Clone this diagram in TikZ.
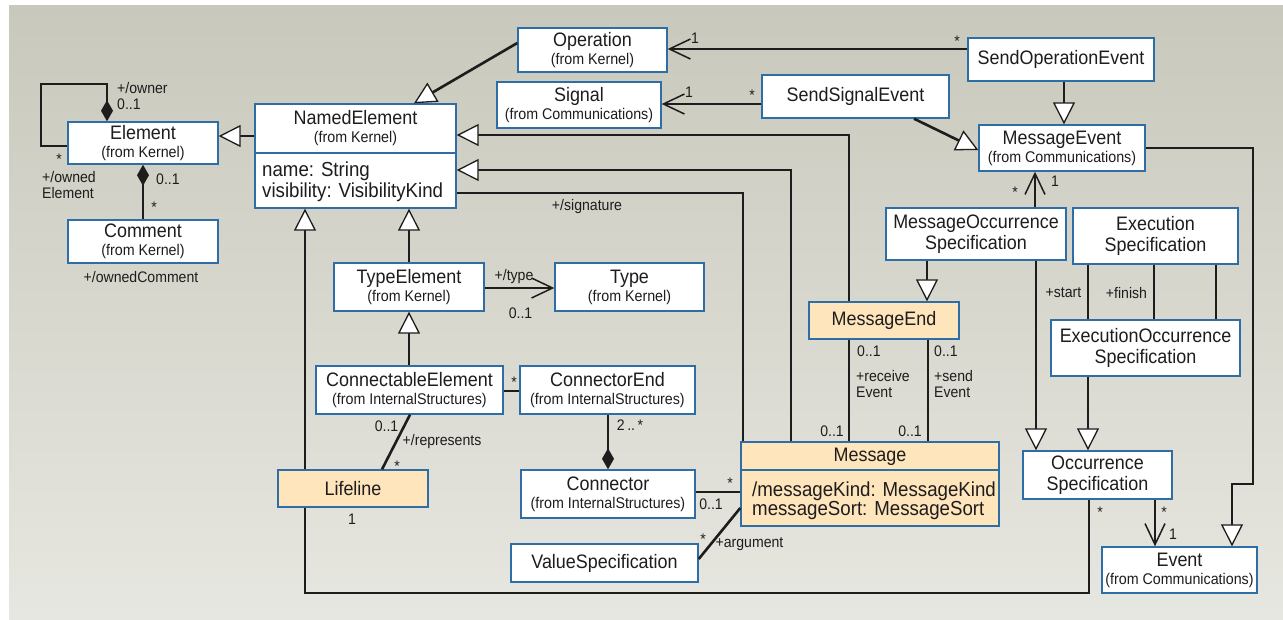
\documentclass[tikz,border=0pt]{standalone}
\usepackage{fontspec}
\setmainfont{Liberation Sans}[FakeStretch=0.92]
\usetikzlibrary{arrows.meta}
\definecolor{bgtop}{RGB}{200,200,188}
\definecolor{bgbot}{RGB}{231,231,225}
\definecolor{boxblue}{RGB}{46,110,166}
\definecolor{peach}{RGB}{254,229,188}
\definecolor{ink}{RGB}{30,28,28}
\newcommand\fmain{\fontsize{19.5}{21}\selectfont}
\newcommand\fsub{\fontsize{15.5}{17}\selectfont}
\newcommand\fattrA{\fontsize{20.3}{21}\selectfont}
\newcommand\fattrB{\fontsize{20.3}{18.3}\selectfont}
\newcommand\flbl{\fontsize{15.3}{16}\selectfont}
\newcommand\titled[2]{#1\\[-3pt]{\fsub #2}}
\tikzset{
  box/.style={draw=boxblue, line width=1.4pt, fill=white, inner sep=0pt, align=center, font=\fmain, text=ink},
  hl/.style={fill=peach},
  divline/.style={draw=boxblue, line width=1.4pt},
  conn/.style={draw=ink, line width=2.6pt},
  gen/.style={conn, -{Triangle[fill=white,length=22pt,width=22pt,line width=1.3pt]}},
  nav/.style={conn, -{Straight Barb[length=21pt,width=20pt,line width=1.5pt]}},
  comp/.style={conn, {Diamond[length=21pt,width=12pt]}-},
  lbl/.style={font=\flbl, text=ink, inner sep=0pt},
}
\newcommand\umlbox[7][]{\node[box,#1,minimum width={#5-#3},minimum height={#6-#4}] (#2) at ({(#3+#5)/2},{(#4+#6)/2}) {#7};}
\begin{document}
\begin{tikzpicture}[x=1pt,y=-1pt]
\useasboundingbox (0,0) rectangle (1283,619);
\shade[top color=bgtop, bottom color=bgbot] (9,5) rectangle (1283,619);

% boxes
\umlbox{elem}{68}{122}{218}{164}{\titled{Element}{(from Kernel)}}
\umlbox{cmt}{68}{220}{218}{263}{\titled{Comment}{(from Kernel)}}
\umlbox{ne}{255}{104}{456}{208}{}
\draw[divline] (255,153) -- (456,153);
\node[lbl, font=\fmain, align=center] (netitle) at (355.5,128) {\titled{NamedElement}{(from Kernel)}};
\node[lbl, font=\fattrA, align=left, anchor=west] (neattr) at (262,182) {name: String\\visibility: VisibilityKind};
\umlbox{op}{518}{28}{667}{72}{\titled{Operation}{(from Kernel)}}
\umlbox{sig}{497}{82}{661}{128}{\titled{Signal}{(from Communications)}}
\umlbox{sse}{762}{75}{949}{118}{SendSignalEvent}
\umlbox{soe}{968}{38}{1154}{81}{SendOperationEvent}
\umlbox{me}{979}{125}{1145}{171}{\titled{MessageEvent}{(from Communications)}}
\umlbox{te}{334}{263}{484}{311}{\titled{TypeElement}{(from Kernel)}}
\umlbox{ty}{555}{263}{704}{311}{\titled{Type}{(from Kernel)}}
\umlbox{ce}{316}{366}{503}{414}{\titled{ConnectableElement}{(from InternalStructures)}}
\umlbox{cend}{520}{366}{695}{414}{\titled{ConnectorEnd}{(from InternalStructures)}}
\umlbox{mos}{886}{208}{1066}{260}{MessageOccurrence\\Specification}
\umlbox{es}{1073}{208}{1238}{264}{Execution\\Specification}
\umlbox[hl]{mend}{809}{302}{959}{339}{MessageEnd}
\umlbox{eos}{1051}{320}{1240}{376}{ExecutionOccurrence\\Specification}
\umlbox[hl]{ll}{278}{470}{428}{507}{Lifeline}
\umlbox{con}{521}{470}{695}{518}{\titled{Connector}{(from InternalStructures)}}
\umlbox{vs}{511}{544}{698}{582}{ValueSpecification}
\umlbox[hl]{msg}{741}{442}{999}{526}{}
\draw[divline] (741,470) -- (999,470);
\node[lbl, font=\fmain] (msgtitle) at (870,456.5) {Message};
\node[lbl, font=\fattrB, align=left, anchor=west] (msgattr) at (752,500.6) {/messageKind: MessageKind\\messageSort: MessageSort};
\umlbox{os}{1023}{451}{1172}{499}{Occurrence\\Specification}
\umlbox{ev}{1102}{547}{1257}{593}{\titled{Event}{(from Communications)}}

% connectors
\draw[comp] (107,0 |- elem.north) -- (107,84) -- (41,84) -- (41,146) -- (elem.west |- 0,146);
\draw[comp] (elem.south) -- (cmt.north);
\draw[gen] (ne.west |- 0,136) -- (elem.east |- 0,136);
\draw[gen] (op.west |- 0,43) -- (414,0 |- ne.north);
\draw[nav] (soe.west |- 0,49) -- (op.east |- 0,49);
\draw[nav] (sse.west |- 0,104) -- (sig.east |- 0,104);
\draw[gen] (1064,0 |- soe.south) -- (1064,0 |- me.north);
\draw[gen] (914,0 |- sse.south) -- (me.west |- 0,150);
\draw[gen] (me.east |- 0,148) -- (1253,148) -- (1253,484) -- (1232,484) -- (1232,0 |- ev.north);
\draw[nav] (1035,0 |- mos.north) -- (1035,0 |- me.south);
\draw[gen] (927,0 |- mos.south) -- (927,0 |- mend.north);
\draw[gen] (1036,0 |- mos.south) -- (1036,0 |- os.north);
\draw[conn] (1088,0 |- es.south) -- (1088,0 |- eos.north);
\draw[conn] (1154,0 |- es.south) -- (1154,0 |- eos.north);
\draw[conn] (1216,0 |- es.south) -- (1216,0 |- eos.north);
\draw[gen] (1088,0 |- eos.south) -- (1088,0 |- os.north);
\draw[nav] (1155,0 |- os.south) -- (1155,0 |- ev.north);
\draw[conn] (1089,0 |- os.south) -- (1089,593) -- (305,593) -- (305,0 |- ll.south);
\draw[gen] (305,0 |- ll.north) -- (305,0 |- ne.south);
\draw[gen] (te.north) -- (te.north |- ne.south);
\draw[nav] (te.east |- 0,288) -- (ty.west |- 0,288);
\draw[gen] (te.south |- ce.north) -- (te.south);
\draw[conn] (ce.east |- 0,391) -- (cend.west |- 0,391);
\draw[conn] (410,0 |- ce.south) -- (382,0 |- ll.north);
\draw[comp] (con.north) -- (con.north |- cend.south);
\draw[conn] (con.east |- 0,492) -- (msg.west |- 0,492);
\draw[conn] (vs.east |- 0,559) -- (msg.west |- 0,508);
\draw[gen] (849,0 |- mend.north) -- (849,135) -- (ne.east |- 0,135);
\draw[gen] (791,0 |- msg.north) -- (791,170) -- (ne.east |- 0,170);
\draw[conn] (743,0 |- msg.north) -- (743,193) -- (ne.east |- 0,193);
\draw[conn] (849,0 |- mend.south) -- (849,0 |- msg.north);
\draw[conn] (928,0 |- mend.south) -- (928,0 |- msg.north);

% labels
\node[lbl,anchor=west] (l1) at (117,88) {+/owner};
\node[lbl,anchor=west] (l2) at (117,104) {0..1};
\node[lbl] (l3) at (59,159.5) {*};
\node[lbl,anchor=west,align=left] (l4) at (42,185) {+/owned\\Element};
\node[lbl,anchor=west] (l5) at (156,179) {0..1};
\node[lbl] (l6) at (154,207) {*};
\node[lbl] (l7) at (141,277) {+/ownedComment};
\node[lbl] (l8) at (695,38) {1};
\node[lbl] (l9) at (957,41) {*};
\node[lbl] (l10) at (689,92) {1};
\node[lbl] (l11) at (752,95) {*};
\node[lbl] (l12) at (1015,192.5) {*};
\node[lbl] (l13) at (1055,181) {1};
\node[lbl] (l14) at (587,207) {+/signature};
\node[lbl] (l15) at (514,277) {+/type};
\node[lbl] (l16) at (520.5,313) {0..1};
\node[lbl] (l17) at (514,382.7) {*};
\node[lbl,anchor=west] (l18) at (857,351) {0..1};
\node[lbl,anchor=west,align=left] (l19) at (856,384) {+receive\\Event};
\node[lbl,anchor=west] (l20) at (934,351) {0..1};
\node[lbl,anchor=west,align=left] (l21) at (934,384) {+send\\Event};
\node[lbl] (l22) at (832,431) {0..1};
\node[lbl] (l23) at (910,431) {0..1};
\node[lbl] (l24) at (1063.5,293) {+start};
\node[lbl] (l25) at (1126.5,293) {+finish};
\node[lbl] (l26) at (386.5,426) {0..1};
\node[lbl] (l27) at (442,442) {+/represents};
\node[lbl] (l28) at (397,466) {*};
\node[lbl] (l29) at (352,519) {1};
\node[lbl] (l30) at (630,425) {2\,..\,*};
\node[lbl] (l31) at (730,483) {*};
\node[lbl] (l32) at (711,504) {0..1};
\node[lbl] (l33) at (703,539.7) {*};
\node[lbl] (l34) at (749.5,544) {+argument};
\node[lbl] (l35) at (1100,512) {*};
\node[lbl] (l36) at (1164,512) {*};
\node[lbl] (l37) at (1173,534) {1};
\end{tikzpicture}
\end{document}
